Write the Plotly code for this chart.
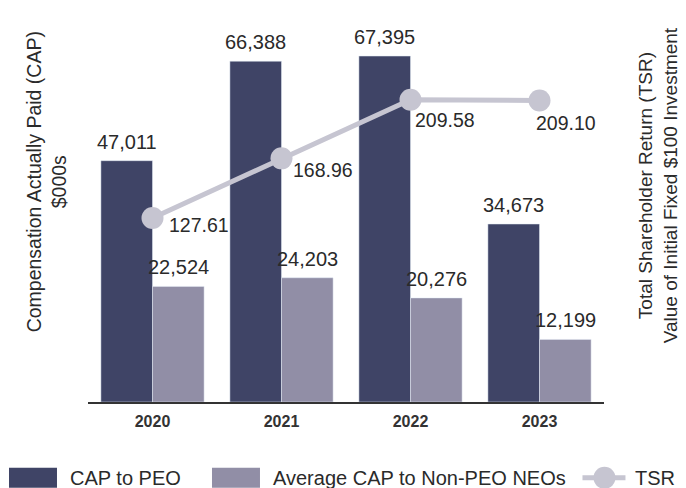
import plotly.graph_objects as go

years = ["2020", "2021", "2022", "2023"]
cap_peo = [47011, 66388, 67395, 34673]
cap_neo = [22524, 24203, 20276, 12199]
tsr = [127.61, 168.96, 209.58, 209.10]

# label placement (pixels) for the TSR value labels, relative to each marker
tsr_label_dx = [14, 9, 2, -6]
tsr_label_dy = [-7, -12, -20, -23]

dark = "#3f4466"
light = "#918ea6"
tsr_col = "#c6c5d1"
txt = "#2a2a2a"
font = "Liberation Sans, Arial, sans-serif"
bargap = 0.2
half = (1 - bargap) / 4  # offset of each bar centre from the category centre

fig = go.Figure()
fig.add_trace(go.Bar(x=years, y=cap_peo, name="CAP to PEO", marker_color=dark,
                     showlegend=False, hoverinfo="x+y"))
fig.add_trace(go.Bar(x=years, y=cap_neo, name="Average CAP to Non-PEO NEOs",
                     marker_color=light, showlegend=False, hoverinfo="x+y"))
fig.add_trace(go.Scatter(
    x=years, y=tsr, name="TSR", yaxis="y2", mode="lines+markers",
    line=dict(color=tsr_col, width=5), marker=dict(size=22, color=tsr_col),
    cliponaxis=False, showlegend=False,
))

annotations = []
for i, (a, b) in enumerate(zip(cap_peo, cap_neo)):
    for off, v in ((-half, a), (half, b)):
        annotations.append(dict(
            x=i + off, y=v, xref="x", yref="y", text=f"{v:,}", showarrow=False,
            xanchor="center", yanchor="bottom", yshift=6,
            font=dict(size=20, color=txt),
        ))
for i, v in enumerate(tsr):
    annotations.append(dict(
        x=i, y=v, xref="x", yref="y2", text=f"{v:.2f}", showarrow=False,
        xanchor="left", yanchor="middle", xshift=tsr_label_dx[i], yshift=tsr_label_dy[i],
        font=dict(size=19.5, color=txt),
    ))
annotations += [
    dict(x=-0.081, y=0.571, xref="paper", yref="paper", textangle=-90, showarrow=False,
         text="Compensation Actually Paid (CAP)<br>$000s",
         font=dict(size=19.5, color=txt), xanchor="center", yanchor="middle"),
    dict(x=1.104, y=0.562, xref="paper", yref="paper", textangle=-90, showarrow=False,
         text="Total Shareholder Return (TSR)<br>Value of Initial Fixed $100 Investment",
         font=dict(size=19, color=txt), xanchor="center", yanchor="middle"),
]

# manual legend (wide swatches like the original)
leg_y = -0.197
leg_font = dict(size=20, color=txt)
tsr_shift = -0.0165
annotations += [
    dict(x=-0.0388, y=leg_y, xref="paper", yref="paper", text="CAP to PEO", showarrow=False,
         xanchor="left", yanchor="middle", font=leg_font),
    dict(x=0.3547, y=leg_y, xref="paper", yref="paper", text="Average CAP to Non-PEO NEOs",
         showarrow=False, xanchor="left", yanchor="middle", font=leg_font),
    dict(x=1.0736 + tsr_shift, y=leg_y, xref="paper", yref="paper", text="TSR", showarrow=False,
         xanchor="left", yanchor="middle", font=leg_font),
]
shapes = [
    dict(type="rect", xref="paper", yref="paper", x0=-0.1531, x1=-0.0601,
         y0=leg_y + 0.026, y1=leg_y - 0.026, fillcolor=dark, line_width=0),
    dict(type="rect", xref="paper", yref="paper", x0=0.2403, x1=0.3333,
         y0=leg_y + 0.026, y1=leg_y - 0.026, fillcolor=light, line_width=0),
    dict(type="line", xref="paper", yref="paper", x0=0.9748 + tsr_shift, x1=1.0581 + tsr_shift,
         y0=leg_y, y1=leg_y, line=dict(color=tsr_col, width=5)),
    dict(type="circle", xref="paper", yref="paper",
         x0=1.0174 + tsr_shift - 0.0213, x1=1.0174 + tsr_shift + 0.0213,
         y0=leg_y - 0.0286, y1=leg_y + 0.0286, fillcolor=tsr_col, line_width=0),
]

fig.update_layout(
    width=678, height=480,
    margin=dict(l=80, r=82, t=9, b=86, autoexpand=False),
    paper_bgcolor="white", plot_bgcolor="white",
    font=dict(family=font, color=txt),
    barmode="group", bargap=bargap, bargroupgap=0,
    showlegend=False,
    xaxis=dict(type="category", range=[-0.5, 3.5], showline=True, linecolor="#333333",
               linewidth=2, ticks="outside", ticklen=4, tickcolor="rgba(0,0,0,0)",
               tickfont=dict(size=16, color="#333333", family=font, weight="bold"),
               showgrid=False, automargin=False),
    yaxis=dict(range=[0, 75000], showticklabels=False, showgrid=False, zeroline=False,
               automargin=False),
    yaxis2=dict(range=[0, 267], overlaying="y", side="right", showticklabels=False,
                showgrid=False, zeroline=False, automargin=False),
    annotations=annotations,
    shapes=shapes,
)

fig.write_html("out.html")
